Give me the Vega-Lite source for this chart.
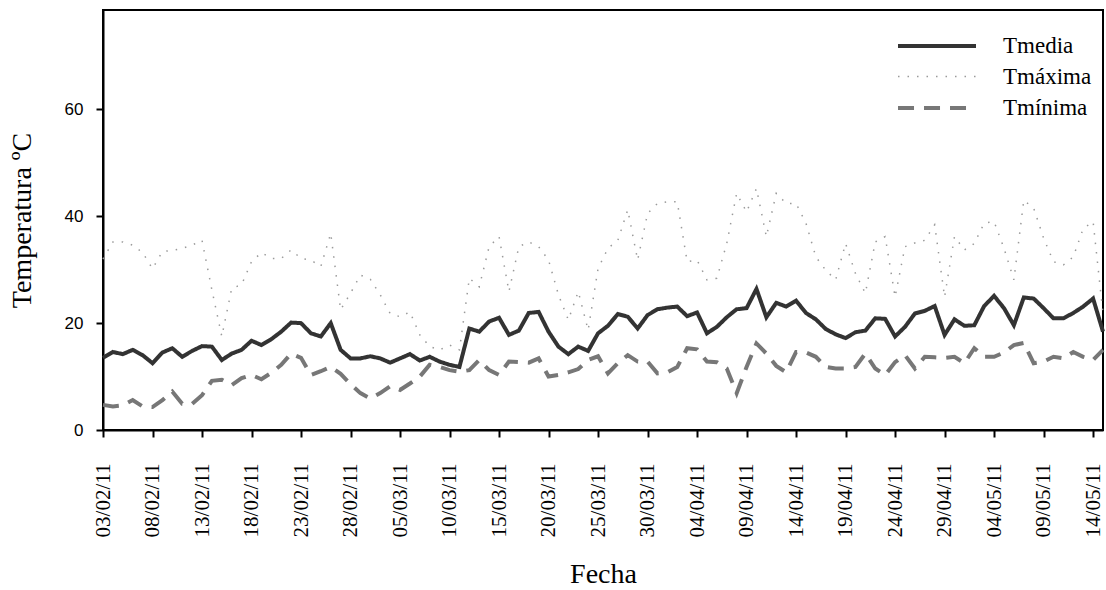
{
  "$schema": "https://vega.github.io/schema/vega-lite/v6.json",
  "width": 1000,
  "height": 420,
  "autosize": {"type": "none"},
  "padding": {"left": 103, "top": 10, "right": 3, "bottom": 160},
  "background": "white",
  "config": {
    "view": {"stroke": "black", "strokeWidth": 2},
    "axis": {"grid": false, "domainColor": "black", "domainWidth": 2, "tickColor": "black", "tickWidth": 2, "tickSize": 7, "labelColor": "black", "titleColor": "black", "titleFont": "Liberation Serif", "titleFontWeight": "normal"},
    "axisX": {"labelFont": "Liberation Serif"}
  },
  "data": {"values": [
    {"fecha": "2011-02-03", "Tmedia": 13.5, "Tmáxima": 32.0, "Tmínima": 4.7},
    {"fecha": "2011-02-04", "Tmedia": 14.6, "Tmáxima": 35.2, "Tmínima": 4.4},
    {"fecha": "2011-02-05", "Tmedia": 14.2, "Tmáxima": 35.2, "Tmínima": 4.6},
    {"fecha": "2011-02-06", "Tmedia": 15.0, "Tmáxima": 34.6, "Tmínima": 5.6},
    {"fecha": "2011-02-07", "Tmedia": 14.0, "Tmáxima": 33.2, "Tmínima": 4.4},
    {"fecha": "2011-02-08", "Tmedia": 12.5, "Tmáxima": 30.2, "Tmínima": 4.3},
    {"fecha": "2011-02-09", "Tmedia": 14.5, "Tmáxima": 33.4, "Tmínima": 5.6},
    {"fecha": "2011-02-10", "Tmedia": 15.3, "Tmáxima": 33.6, "Tmínima": 7.2},
    {"fecha": "2011-02-11", "Tmedia": 13.7, "Tmáxima": 34.0, "Tmínima": 4.9},
    {"fecha": "2011-02-12", "Tmedia": 14.8, "Tmáxima": 34.6, "Tmínima": 4.9},
    {"fecha": "2011-02-13", "Tmedia": 15.7, "Tmáxima": 35.5, "Tmínima": 6.5},
    {"fecha": "2011-02-14", "Tmedia": 15.6, "Tmáxima": 26.2, "Tmínima": 9.2},
    {"fecha": "2011-02-15", "Tmedia": 13.1, "Tmáxima": 17.5, "Tmínima": 9.4},
    {"fecha": "2011-02-16", "Tmedia": 14.3, "Tmáxima": 26.5, "Tmínima": 8.4},
    {"fecha": "2011-02-17", "Tmedia": 15.0, "Tmáxima": 27.2, "Tmínima": 9.7},
    {"fecha": "2011-02-18", "Tmedia": 16.7, "Tmáxima": 31.5, "Tmínima": 10.3},
    {"fecha": "2011-02-19", "Tmedia": 15.9, "Tmáxima": 33.2, "Tmínima": 9.5},
    {"fecha": "2011-02-20", "Tmedia": 17.0, "Tmáxima": 32.1, "Tmínima": 10.7},
    {"fecha": "2011-02-21", "Tmedia": 18.4, "Tmáxima": 32.1, "Tmínima": 12.2},
    {"fecha": "2011-02-22", "Tmedia": 20.1, "Tmáxima": 33.7, "Tmínima": 14.3},
    {"fecha": "2011-02-23", "Tmedia": 20.0, "Tmáxima": 32.1, "Tmínima": 13.5},
    {"fecha": "2011-02-24", "Tmedia": 18.1, "Tmáxima": 31.8, "Tmínima": 10.3},
    {"fecha": "2011-02-25", "Tmedia": 17.5, "Tmáxima": 30.6, "Tmínima": 11.0},
    {"fecha": "2011-02-26", "Tmedia": 20.0, "Tmáxima": 36.8, "Tmínima": 11.8},
    {"fecha": "2011-02-27", "Tmedia": 15.0, "Tmáxima": 22.5, "Tmínima": 10.5},
    {"fecha": "2011-02-28", "Tmedia": 13.4, "Tmáxima": 25.6, "Tmínima": 8.6},
    {"fecha": "2011-03-01", "Tmedia": 13.4, "Tmáxima": 29.0, "Tmínima": 6.9},
    {"fecha": "2011-03-02", "Tmedia": 13.8, "Tmáxima": 28.2, "Tmínima": 5.9},
    {"fecha": "2011-03-03", "Tmedia": 13.4, "Tmáxima": 25.3, "Tmínima": 6.9},
    {"fecha": "2011-03-04", "Tmedia": 12.6, "Tmáxima": 21.8, "Tmínima": 8.2},
    {"fecha": "2011-03-05", "Tmedia": 13.4, "Tmáxima": 21.2, "Tmínima": 7.5},
    {"fecha": "2011-03-06", "Tmedia": 14.2, "Tmáxima": 22.1, "Tmínima": 8.7},
    {"fecha": "2011-03-07", "Tmedia": 13.0, "Tmáxima": 17.8, "Tmínima": 10.0},
    {"fecha": "2011-03-08", "Tmedia": 13.7, "Tmáxima": 15.6, "Tmínima": 12.2},
    {"fecha": "2011-03-09", "Tmedia": 12.8, "Tmáxima": 15.0, "Tmínima": 11.8},
    {"fecha": "2011-03-10", "Tmedia": 12.2, "Tmáxima": 15.9, "Tmínima": 11.2},
    {"fecha": "2011-03-11", "Tmedia": 11.8, "Tmáxima": 15.0, "Tmínima": 10.9},
    {"fecha": "2011-03-12", "Tmedia": 19.0, "Tmáxima": 28.4, "Tmínima": 11.2},
    {"fecha": "2011-03-13", "Tmedia": 18.4, "Tmáxima": 26.8, "Tmínima": 13.1},
    {"fecha": "2011-03-14", "Tmedia": 20.3, "Tmáxima": 34.3, "Tmínima": 11.2},
    {"fecha": "2011-03-15", "Tmedia": 21.0, "Tmáxima": 36.2, "Tmínima": 10.3},
    {"fecha": "2011-03-16", "Tmedia": 17.8, "Tmáxima": 25.9, "Tmínima": 12.8},
    {"fecha": "2011-03-17", "Tmedia": 18.6, "Tmáxima": 34.3, "Tmínima": 12.7},
    {"fecha": "2011-03-18", "Tmedia": 21.9, "Tmáxima": 35.2, "Tmínima": 12.6},
    {"fecha": "2011-03-19", "Tmedia": 22.1, "Tmáxima": 34.3, "Tmínima": 13.4},
    {"fecha": "2011-03-20", "Tmedia": 18.4, "Tmáxima": 31.8, "Tmínima": 10.0},
    {"fecha": "2011-03-21", "Tmedia": 15.6, "Tmáxima": 25.3, "Tmínima": 10.3},
    {"fecha": "2011-03-22", "Tmedia": 14.2, "Tmáxima": 20.6, "Tmínima": 10.8},
    {"fecha": "2011-03-23", "Tmedia": 15.6, "Tmáxima": 25.9, "Tmínima": 11.4},
    {"fecha": "2011-03-24", "Tmedia": 14.8, "Tmáxima": 18.7, "Tmínima": 13.1},
    {"fecha": "2011-03-25", "Tmedia": 18.1, "Tmáxima": 30.2, "Tmínima": 13.8},
    {"fecha": "2011-03-26", "Tmedia": 19.5, "Tmáxima": 34.0, "Tmínima": 10.6},
    {"fecha": "2011-03-27", "Tmedia": 21.7, "Tmáxima": 35.5, "Tmínima": 12.5},
    {"fecha": "2011-03-28", "Tmedia": 21.2, "Tmáxima": 41.2, "Tmínima": 14.0},
    {"fecha": "2011-03-29", "Tmedia": 19.0, "Tmáxima": 31.8, "Tmínima": 12.8},
    {"fecha": "2011-03-30", "Tmedia": 21.5, "Tmáxima": 40.5, "Tmínima": 12.8},
    {"fecha": "2011-03-31", "Tmedia": 22.6, "Tmáxima": 42.4, "Tmínima": 10.6},
    {"fecha": "2011-04-01", "Tmedia": 22.9, "Tmáxima": 42.7, "Tmínima": 10.8},
    {"fecha": "2011-04-02", "Tmedia": 23.1, "Tmáxima": 42.7, "Tmínima": 11.8},
    {"fecha": "2011-04-03", "Tmedia": 21.3, "Tmáxima": 31.5, "Tmínima": 15.3},
    {"fecha": "2011-04-04", "Tmedia": 22.0, "Tmáxima": 31.8, "Tmínima": 15.1},
    {"fecha": "2011-04-05", "Tmedia": 18.1, "Tmáxima": 28.1, "Tmínima": 12.8},
    {"fecha": "2011-04-06", "Tmedia": 19.3, "Tmáxima": 28.4, "Tmínima": 12.7},
    {"fecha": "2011-04-07", "Tmedia": 21.1, "Tmáxima": 34.9, "Tmínima": 11.5},
    {"fecha": "2011-04-08", "Tmedia": 22.6, "Tmáxima": 44.3, "Tmínima": 6.9},
    {"fecha": "2011-04-09", "Tmedia": 22.8, "Tmáxima": 40.8, "Tmínima": 11.8},
    {"fecha": "2011-04-10", "Tmedia": 26.4, "Tmáxima": 45.2, "Tmínima": 16.2},
    {"fecha": "2011-04-11", "Tmedia": 21.1, "Tmáxima": 36.2, "Tmínima": 14.3},
    {"fecha": "2011-04-12", "Tmedia": 23.8, "Tmáxima": 44.3, "Tmínima": 12.0},
    {"fecha": "2011-04-13", "Tmedia": 23.1, "Tmáxima": 42.4, "Tmínima": 10.8},
    {"fecha": "2011-04-14", "Tmedia": 24.2, "Tmáxima": 42.4, "Tmínima": 14.6},
    {"fecha": "2011-04-15", "Tmedia": 21.9, "Tmáxima": 38.7, "Tmínima": 14.5},
    {"fecha": "2011-04-16", "Tmedia": 20.7, "Tmáxima": 32.4, "Tmínima": 13.7},
    {"fecha": "2011-04-17", "Tmedia": 18.9, "Tmáxima": 29.9, "Tmínima": 11.8},
    {"fecha": "2011-04-18", "Tmedia": 17.9, "Tmáxima": 28.1, "Tmínima": 11.5},
    {"fecha": "2011-04-19", "Tmedia": 17.2, "Tmáxima": 34.9, "Tmínima": 11.5},
    {"fecha": "2011-04-20", "Tmedia": 18.3, "Tmáxima": 29.3, "Tmínima": 11.8},
    {"fecha": "2011-04-21", "Tmedia": 18.6, "Tmáxima": 25.6, "Tmínima": 14.3},
    {"fecha": "2011-04-22", "Tmedia": 20.9, "Tmáxima": 35.2, "Tmínima": 11.5},
    {"fecha": "2011-04-23", "Tmedia": 20.8, "Tmáxima": 36.2, "Tmínima": 10.3},
    {"fecha": "2011-04-24", "Tmedia": 17.5, "Tmáxima": 24.9, "Tmínima": 12.7},
    {"fecha": "2011-04-25", "Tmedia": 19.3, "Tmáxima": 34.3, "Tmínima": 14.0},
    {"fecha": "2011-04-26", "Tmedia": 21.8, "Tmáxima": 35.0, "Tmínima": 11.5},
    {"fecha": "2011-04-27", "Tmedia": 22.3, "Tmáxima": 35.5, "Tmínima": 13.7},
    {"fecha": "2011-04-28", "Tmedia": 23.2, "Tmáxima": 38.4, "Tmínima": 13.6},
    {"fecha": "2011-04-29", "Tmedia": 17.8, "Tmáxima": 24.9, "Tmínima": 13.5},
    {"fecha": "2011-04-30", "Tmedia": 20.7, "Tmáxima": 36.2, "Tmínima": 13.7},
    {"fecha": "2011-05-01", "Tmedia": 19.5, "Tmáxima": 33.7, "Tmínima": 12.5},
    {"fecha": "2011-05-02", "Tmedia": 19.6, "Tmáxima": 34.9, "Tmínima": 15.3},
    {"fecha": "2011-05-03", "Tmedia": 23.2, "Tmáxima": 38.7, "Tmínima": 13.7},
    {"fecha": "2011-05-04", "Tmedia": 25.1, "Tmáxima": 39.0, "Tmínima": 13.7},
    {"fecha": "2011-05-05", "Tmedia": 22.8, "Tmáxima": 34.0, "Tmínima": 14.5},
    {"fecha": "2011-05-06", "Tmedia": 19.6, "Tmáxima": 28.1, "Tmínima": 15.9},
    {"fecha": "2011-05-07", "Tmedia": 24.8, "Tmáxima": 43.0, "Tmínima": 16.3},
    {"fecha": "2011-05-08", "Tmedia": 24.6, "Tmáxima": 41.5, "Tmínima": 12.5},
    {"fecha": "2011-05-09", "Tmedia": 22.8, "Tmáxima": 35.9, "Tmínima": 12.8},
    {"fecha": "2011-05-10", "Tmedia": 20.9, "Tmáxima": 31.5, "Tmínima": 13.7},
    {"fecha": "2011-05-11", "Tmedia": 20.9, "Tmáxima": 30.9, "Tmínima": 13.4},
    {"fecha": "2011-05-12", "Tmedia": 21.9, "Tmáxima": 32.4, "Tmínima": 14.6},
    {"fecha": "2011-05-13", "Tmedia": 23.1, "Tmáxima": 37.7, "Tmínima": 13.7},
    {"fecha": "2011-05-14", "Tmedia": 24.6, "Tmáxima": 39.0, "Tmínima": 13.1},
    {"fecha": "2011-05-15", "Tmedia": 18.4, "Tmáxima": 21.8, "Tmínima": 15.0}
  ]},
  "transform": [{"fold": ["Tmedia", "Tmáxima", "Tmínima"], "as": ["serie", "valor"]}],
  "mark": {"type": "line", "strokeCap": "butt"},
  "encoding": {
    "x": {
      "field": "fecha", "type": "temporal",
      "scale": {"type": "utc", "domain": [{"year": 2011, "month": 2, "date": 3, "utc": true}, {"year": 2011, "month": 5, "date": 15, "utc": true}]},
      "axis": {
        "values": [
          {"year": 2011, "month": 2, "date": 3, "utc": true},
          {"year": 2011, "month": 2, "date": 8, "utc": true},
          {"year": 2011, "month": 2, "date": 13, "utc": true},
          {"year": 2011, "month": 2, "date": 18, "utc": true},
          {"year": 2011, "month": 2, "date": 23, "utc": true},
          {"year": 2011, "month": 2, "date": 28, "utc": true},
          {"year": 2011, "month": 3, "date": 5, "utc": true},
          {"year": 2011, "month": 3, "date": 10, "utc": true},
          {"year": 2011, "month": 3, "date": 15, "utc": true},
          {"year": 2011, "month": 3, "date": 20, "utc": true},
          {"year": 2011, "month": 3, "date": 25, "utc": true},
          {"year": 2011, "month": 3, "date": 30, "utc": true},
          {"year": 2011, "month": 4, "date": 4, "utc": true},
          {"year": 2011, "month": 4, "date": 9, "utc": true},
          {"year": 2011, "month": 4, "date": 14, "utc": true},
          {"year": 2011, "month": 4, "date": 19, "utc": true},
          {"year": 2011, "month": 4, "date": 24, "utc": true},
          {"year": 2011, "month": 4, "date": 29, "utc": true},
          {"year": 2011, "month": 5, "date": 4, "utc": true},
          {"year": 2011, "month": 5, "date": 9, "utc": true},
          {"year": 2011, "month": 5, "date": 14, "utc": true}
        ],
        "format": "%d/%m/%y",
        "labelAngle": 270,
        "labelFont": "Liberation Serif",
        "labelFontSize": 21,
        "labelPadding": 26,
        "labelOverlap": false,
        "labelFlush": false,
        "title": "Fecha",
        "titleFontSize": 28,
        "titlePadding": 24
      }
    },
    "y": {
      "field": "valor", "type": "quantitative",
      "scale": {"domain": [0, 78.6], "nice": false, "zero": true},
      "axis": {
        "values": [0, 20, 40, 60],
        "labelFont": "Liberation Sans",
        "labelFontSize": 17,
        "labelPadding": 13,
        "title": "Temperatura ºC",
        "titleFontSize": 28,
        "titlePadding": 28
      }
    },
    "color": {
      "field": "serie", "type": "nominal",
      "scale": {"domain": ["Tmedia", "Tmáxima", "Tmínima"], "range": ["#333333", "#9a9a9a", "#777777"]},
      "legend": {
        "orient": "none", "legendX": 822, "legendY": 24, "title": null,
        "symbolType": "M-4,0H4", "symbolSize": 380,
        "labelFont": "Liberation Serif", "labelFontSize": 23, "labelColor": "black",
        "labelOffset": 54, "rowPadding": 7
      }
    },
    "strokeDash": {
      "field": "serie", "type": "nominal",
      "scale": {"domain": ["Tmedia", "Tmáxima", "Tmínima"], "range": [[1, 0], [1.5, 8], [16, 10]]}
    },
    "strokeWidth": {
      "field": "serie", "type": "nominal",
      "scale": {"type": "ordinal", "domain": ["Tmedia", "Tmáxima", "Tmínima"], "range": [4, 1.5, 4]}
    }
  }
}
